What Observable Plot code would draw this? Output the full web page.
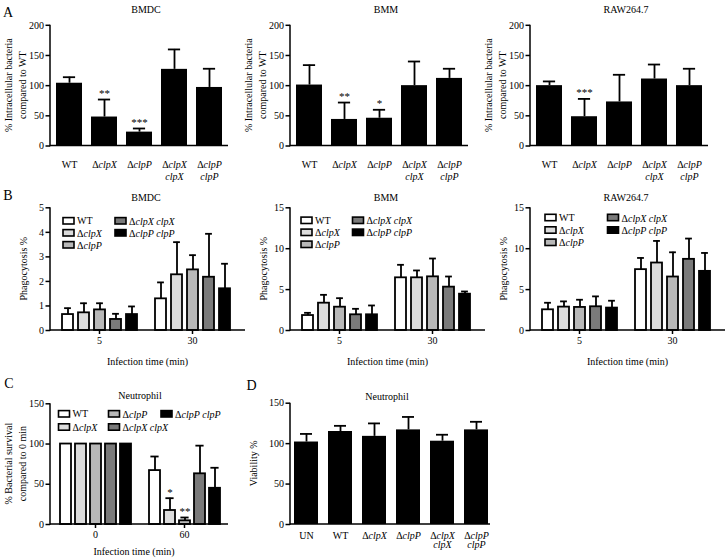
<!DOCTYPE html>
<html><head><meta charset="utf-8">
<script src="https://cdn.jsdelivr.net/npm/d3@7"></script>
<script src="https://cdn.jsdelivr.net/npm/@observablehq/plot@0.6"></script>
<style>
body{margin:0;background:#fff;}
#root{position:relative;width:727px;height:558px;overflow:hidden;background:#fff;}
#root svg{position:absolute;max-width:none;font-family:"Liberation Serif","DejaVu Serif",serif;}
#root svg text{font-family:"Liberation Serif","DejaVu Serif",serif;}
</style></head><body><div id="root"></div>
<script>
const FONT = '"Liberation Serif", "DejaVu Serif", serif';
// ---------- data ----------
const strains = ["WT","ΔclpX","ΔclpP","ΔclpX clpX","ΔclpP clpP"];
const strainTicks = ["WT","ΔclpX","ΔclpP","ΔclpX\nclpX","ΔclpP\nclpP"];
const strainFills = ["#ffffff","#dcdcdc","#b8b8b8","#7a7a7a","#000000"];

// Panel A: % intracellular bacteria compared to WT
const aTitles = ["BMDC","BMM","RAW264.7"];
const aBMDC = [104,48,23,127,97],  aBMDCerr = [114,77,29,160,128], aBMDCsig = ["","**","***","",""];
const aBMM  = [101,44,46,100,112], aBMMerr  = [134,72,60,140,128], aBMMsig  = ["","**","*","",""];
const aRAW  = [100,48.5,73,111,100], aRAWerr = [107,78,118,135,128], aRAWsig = ["","***","","",""];
const aTicks = [0,50,100,150,200];

// Panel B: phagocytosis %
const bTimes = ["5","30"];
const bBMDC5 = [0.65,0.72,0.84,0.45,0.65], bBMDC5err = [0.91,1.11,1.11,0.68,0.98];
const bBMDC30 = [1.29,2.27,2.47,2.17,1.70], bBMDC30err = [1.96,3.6,3.07,3.94,2.72];
const bBMM5 = [1.83,3.34,2.85,1.92,1.92], bBMM5err = [2.16,4.36,3.95,2.65,3.06];
const bBMM30 = [6.44,6.44,6.56,5.3,4.44], bBMM30err = [8.03,7.34,8.8,6.6,4.77];
const bRAW5 = [2.53,2.86,2.82,2.9,2.74], bRAW5err = [3.39,3.56,3.76,4.17,3.64];
const bRAW30 = [7.44,8.25,6.54,8.7,7.23], bRAW30err = [8.87,10.95,9.56,11.24,9.48];
const bTicksBMDC = [0,1,2,3,4,5];
const bTicksOther = [0,5,10,15];

// Panel C: neutrophil bacterial survival
const cTimes = ["0","60"];
const c0 = [100,100,100,100,100], c0err = [100,100,100,100,100], c0sig = ["","","","",""];
const c60 = [67,17.4,4.6,63,45], c60err = [84.5,32.7,8.7,98,70.5], c60sig = ["","*","**","",""];
const cTicks = [0,50,100,150];

// Panel D: neutrophil viability
const dTicksLabels = ["UN","WT","ΔclpX","ΔclpP","ΔclpX\nclpX","ΔclpP\nclpP"];
const dVals = [102,115,109,117,103,117];
const dErr  = [112,122,125,133,111,127];

// ---------- helpers ----------
const NS = "http://www.w3.org/2000/svg";
const root = document.getElementById("root");
function place(svg, left, top){
  svg.style.left = left+"px"; svg.style.top = top+"px";
  svg.style.fontFamily = FONT; svg.style.background = "transparent";
  root.appendChild(svg); return svg;
}
function addText(svg, x, y, str, o={}){
  const t = document.createElementNS(NS,"text");
  t.setAttribute("x",x); t.setAttribute("y",y);
  t.setAttribute("text-anchor", o.anchor||"middle");
  t.setAttribute("dominant-baseline","central");
  t.setAttribute("font-size", o.size||10);
  t.setAttribute("fill","#000");
  if (o.rotate) t.setAttribute("transform",`rotate(-90,${x},${y})`);
  t.textContent = str;
  svg.appendChild(t);
}
function italicize(svg){
  svg.querySelectorAll("text, tspan").forEach(el=>{
    if ([...el.childNodes].some(n=>n.nodeType===1)) return;
    const s = el.textContent;
    if (!/clp[XP]/.test(s)) return;
    el.textContent = "";
    s.split(/(clp[XP])/).forEach(p=>{
      if (!p) return;
      const t = document.createElementNS(NS,"tspan");
      if (/^clp[XP]$/.test(p)) t.setAttribute("font-style","italic");
      t.textContent = p;
      el.appendChild(t);
    });
  });
}
function spines(p, x0, x1){
  const y = p.scale("y");
  const [d0,d1] = y.domain;
  const g = document.createElementNS(NS,"g");
  g.setAttribute("stroke","#000"); g.setAttribute("stroke-width",1.5);
  const l1 = document.createElementNS(NS,"line");
  l1.setAttribute("x1",x0); l1.setAttribute("x2",x0);
  l1.setAttribute("y1",y.apply(d0)+0.75); l1.setAttribute("y2",y.apply(d1));
  const l2 = document.createElementNS(NS,"line");
  l2.setAttribute("x1",x0); l2.setAttribute("x2",x1);
  l2.setAttribute("y1",y.apply(0)); l2.setAttribute("y2",y.apply(0));
  g.appendChild(l1); g.appendChild(l2);
  p.appendChild(g);
}
function legend(svg, pos){
  pos.forEach(([x,y],i)=>{
    const r = document.createElementNS(NS,"rect");
    r.setAttribute("x",x); r.setAttribute("y",y-3.2);
    r.setAttribute("width",11); r.setAttribute("height",6.4);
    r.setAttribute("fill",strainFills[i]); r.setAttribute("stroke","#000"); r.setAttribute("stroke-width",1.6);
    svg.appendChild(r);
    addText(svg, x+14, y, strains[i], {anchor:"start"});
  });
}
const baseStyle = {fontSize: "10px", color: "#000", background: "transparent"};
const intFmt = d => String(d);
function yAxisPlot(W, H, ML, MT, MB, ymax, ticks){
  return Plot.plot({
    width:W, height:H, marginLeft:ML, marginRight:W-ML-1, marginTop:MT, marginBottom:MB,
    style: baseStyle,
    y:{domain:[0,ymax]},
    marks:[Plot.axisY({ticks, tickFormat:intFmt, tickSize:4.5, tickPadding:2, fontSize:10, strokeWidth:1.5, fill:"#000", label:null})]
  });
}

// ---------- Panel A ----------
function panelA(vals, errs, sig, title, left, letter){
  const W=240, H=188, ML=50, MR=11.4, MT=24.8, MB=42.5;
  const data = strainTicks.map((s,j)=>({s, v:vals[j], e:errs[j], sig:sig[j]}));
  const p = Plot.plot({
    width:W, height:H, marginLeft:ML, marginRight:MR, marginTop:MT, marginBottom:MB,
    style: baseStyle,
    x:{domain:strainTicks, paddingInner:0.25, paddingOuter:0.148},
    y:{domain:[0,200]},
    marks:[
      Plot.ruleX(data,{x:"s", y1:"v", y2:"e", stroke:"#000", strokeWidth:1.8}),
      Plot.tickY(data,{x:"s", y:"e", stroke:"#000", strokeWidth:1.8, insetLeft:6.9, insetRight:6.9}),
      Plot.barY(data,{x:"s", y:"v", fill:"#000"}),
      Plot.text(data,{x:"s", y:"e", text:"sig", dy:-6, fontSize:11, fill:"#000"}),
      Plot.axisY({ticks:aTicks, tickFormat:intFmt, tickSize:4.5, tickPadding:2, fontSize:10, strokeWidth:1.5, label:null}),
      Plot.axisX({tickSize:0, tickPadding:14, fontSize:10, lineHeight:1.15, label:null})
    ]
  });
  spines(p, ML, 228);
  const cy = (MT + H - MB)/2;
  addText(p, 9, cy, "% Intracellular bacteria", {rotate:true});
  addText(p, 22.5, cy, "compared to WT", {rotate:true});
  addText(p, ML + 96, 9.5, title);
  if (letter) addText(p, 8, 12, letter, {size:14});
  italicize(p);
  place(p, left, 0);
}
panelA(aBMDC, aBMDCerr, aBMDCsig, aTitles[0], 0, "A");
panelA(aBMM, aBMMerr, aBMMsig, aTitles[1], 240, null);
panelA(aRAW, aRAWerr, aRAWsig, aTitles[2], 480, null);

// ---------- grouped bar helper (B, C) ----------
function grouped(opts){
  const {times, series, W, H, ML, MR, MT, MB, ymax, fxPad, xPadInner, capInset, sigs} = opts;
  const data = [];
  times.forEach((t,ti)=>{
    strains.forEach((s,j)=>{
      data.push({t, s, v:series[ti][0][j], e:series[ti][1][j], sig: sigs ? sigs[ti][j] : ""});
    });
  });
  const errData = data.filter(d=>d.e > d.v);
  const p = Plot.plot({
    width:W, height:H, marginLeft:ML, marginRight:MR, marginTop:MT, marginBottom:MB,
    style: baseStyle,
    fx:{domain:times, paddingInner:fxPad[0], paddingOuter:fxPad[1]},
    x:{domain:strains, paddingInner:xPadInner, paddingOuter:0, axis:null},
    y:{domain:[0,ymax], axis:null},
    color:{domain:strains, range:strainFills},
    marks:[
      Plot.ruleX(errData,{fx:"t", x:"s", y1:"v", y2:"e", stroke:"#000", strokeWidth:1.8}),
      Plot.tickY(errData,{fx:"t", x:"s", y:"e", stroke:"#000", strokeWidth:1.8, insetLeft:capInset, insetRight:capInset}),
      Plot.barY(data,{fx:"t", x:"s", y:"v", fill:"s", stroke:"#000", strokeWidth:1.8}),
      Plot.text(data,{fx:"t", x:"s", y:"e", text:"sig", dy:-6, fontSize:11, fill:"#000"}),
      Plot.axisFx({anchor:"bottom", tickSize:4, tickPadding:2, fontSize:10, strokeWidth:1.5, fill:"#000", label:null})
    ]
  });
  return p;
}

// ---------- Panel B ----------
function panelB(series, ymax, ticks, title, left, legendPos, letter){
  const W=245, H=190, ML=50, MR=4, MT=27.3, MB=40;
  place(yAxisPlot(W, H, ML, MT, MB, ymax, ticks), left, 180);
  const p = grouped({times:bTimes, series, W, H, ML, MR, MT, MB, ymax,
    fxPad:[15/93, 10/93], xPadInner:0.33, capInset:2.1});
  spines(p, ML, 248);
  const cy = (MT + H - MB)/2;
  addText(p, 24, cy, "Phagocytosis %", {rotate:true});
  addText(p, ML + 96, 17.3, title);
  addText(p, (ML + W - MR)/2 + 2, 181.7, "Infection time (min)");
  legend(p, legendPos);
  if (letter) addText(p, 8, 15, letter, {size:14});
  italicize(p);
  place(p, left, 180);
}
const legB1 = [[63,40.8],[63,52.8],[63,64.8],[115,40.8],[115,52.8]];
const legB2 = [[61,40.3],[61,52.3],[61,64.3],[112.5,40.3],[112.5,52.3]];
const legB3 = [[65,37.5],[65,50],[65,62.3],[127.5,37.5],[127.5,50]];
panelB([[bBMDC5,bBMDC5err],[bBMDC30,bBMDC30err]], 5, bTicksBMDC, "BMDC", 0, legB1, "B");
panelB([[bBMM5,bBMM5err],[bBMM30,bBMM30err]], 15, bTicksOther, "BMM", 240, legB2, null);
panelB([[bRAW5,bRAW5err],[bRAW30,bRAW30err]], 15, bTicksOther, "RAW264.7", 480, legB3, null);

// ---------- Panel C ----------
(function(){
  const W=240, H=188, ML=50, MR=12, MT=33.3, MB=34;
  place(yAxisPlot(W, H, ML, MT, MB, 150, cTicks), 0, 370);
  const p = grouped({times:cTimes, series:[[c0,c0err],[c60,c60err]], W, H, ML, MR, MT, MB,
    ymax:150, fxPad:[17/89, 8.5/89], xPadInner:0.3, capInset:1.4, sigs:[c0sig,c60sig]});
  spines(p, ML, 228);
  const cy = (MT + H - MB)/2;
  addText(p, 9, cy, "% Bacterial survival", {rotate:true});
  addText(p, 22.5, cy, "compared to 0 min", {rotate:true});
  addText(p, 140, 25, "Neutrophil");
  addText(p, 134, 181.7, "Infection time (min)");
  legend(p, [[58.5,43.8],[58.5,57],[108.5,43.8],[108.5,57],[161,43.8]]);
  addText(p, 9, 13, "C", {size:14});
  italicize(p);
  place(p, 0, 370);
})();

// ---------- Panel D ----------
(function(){
  const W=260, H=188, ML=50, MR=8.4, MT=32.7, MB=34;
  const data = dTicksLabels.map((s,j)=>({s, v:dVals[j], e:dErr[j]}));
  const p = Plot.plot({
    width:W, height:H, marginLeft:ML, marginRight:MR, marginTop:MT, marginBottom:MB,
    style: baseStyle,
    x:{domain:dTicksLabels, paddingInner:0.3, paddingOuter:0.097},
    y:{domain:[0,150]},
    marks:[
      Plot.ruleX(data,{x:"s", y1:"v", y2:"e", stroke:"#000", strokeWidth:1.8}),
      Plot.tickY(data,{x:"s", y:"e", stroke:"#000", strokeWidth:1.8, insetLeft:6, insetRight:6}),
      Plot.barY(data,{x:"s", y:"v", fill:"#000"}),
      Plot.axisY({ticks:cTicks, tickFormat:intFmt, tickSize:4.5, tickPadding:2, fontSize:10, strokeWidth:1.5, label:null}),
      Plot.axisX({tickSize:0, tickPadding:7.5, fontSize:10, lineHeight:0.95, label:null})
    ]
  });
  spines(p, ML, 250);
  const cy = (MT + H - MB)/2;
  addText(p, 13.5, cy, "Viability %", {rotate:true});
  addText(p, 147, 26, "Neutrophil");
  addText(p, 11.5, 15, "D", {size:14});
  italicize(p);
  place(p, 240, 370);
})();
</script>
</body></html>
